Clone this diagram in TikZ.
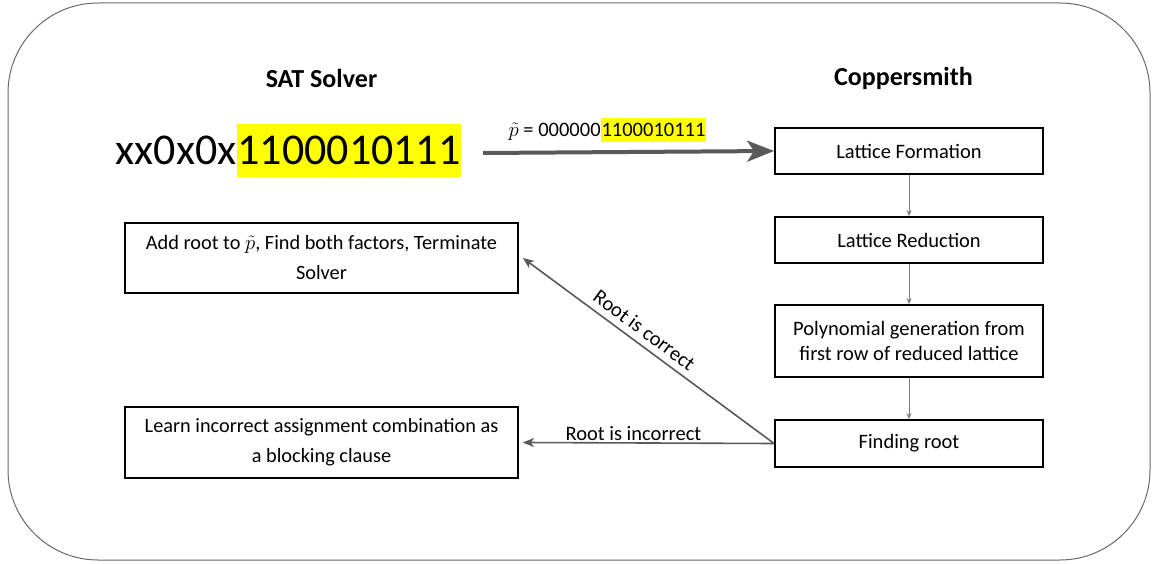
\documentclass[tikz,border=0pt]{standalone}
\usepackage{fontspec}
\setmainfont{Carlito}
\usetikzlibrary{arrows.meta}
\definecolor{framegray}{RGB}{105,105,105}
\definecolor{arrowgray}{RGB}{89,89,89}
\definecolor{linkgray}{RGB}{125,125,125}
\definecolor{hlyellow}{RGB}{255,255,0}
\tikzset{
	stepbox/.style={draw, line width=1.8, minimum width=268, align=center, font=\fontsize{20.5}{24.5}\selectfont},
	solverbox/.style={draw, line width=1.8, minimum width=393, align=center, font=\fontsize{20.3}{30}\selectfont},
	header/.style={font=\fontsize{26}{30}\selectfont\bfseries},
	bigtext/.style={font=\fontsize{44}{48}\selectfont},
	biglink/.style={draw=arrowgray, line width=4, -{Stealth[length=27,width=21,inset=7]}},
	flowlink/.style={draw=linkgray, line width=1, -{Stealth[length=6,width=5]}},
	backlink/.style={draw=arrowgray, line width=1.6, -{Stealth[length=11,width=9,inset=3]}},
	linklabel/.style={font=\fontsize{20.5}{24}\selectfont}
}
\begin{document}
\begin{tikzpicture}[x=1pt,y=-1pt]
	\useasboundingbox (0,0) rectangle (1157,564);
	\draw [framegray, line width=1, rounded corners=90] (8,3) rectangle (1150,560);
	\node[header] (sat) at (321.5,78) {SAT Solver};
	\node[header] (cop) at (903.5,78) {Coppersmith};
	\node[bigtext, fill=hlyellow, inner xsep=0.5, inner ysep=0, minimum height=53] (known) at (349,150.5) {1100010111};
	\node[bigtext, anchor=base east, inner xsep=0] (unknown) at (known.base west) {xx0x0x};
	\node[stepbox, minimum height=46] (lf) at (909,151) {Lattice Formation};
	\node[stepbox, minimum height=46] (lr) at (909,240) {Lattice Reduction};
	\node[stepbox, minimum height=72] (pg) at (909,341) {Polynomial generation from\\first row of reduced lattice};
	\node[stepbox, minimum height=47] (fr) at (909,443.5) {Finding root};
	\node[solverbox, minimum height=70] (add) at (321.5,258) {Add root to $\tilde{p}$, Find both factors, Terminate\\Solver};
	\node[solverbox, minimum height=71] (learn) at (321.5,442.5) {Learn incorrect assignment combination as\\a blocking clause};
	\node[linklabel, fill=hlyellow, inner xsep=0.5, inner ysep=0, minimum height=24] (ptail) at (653.5,130) {1100010111};
	\node[linklabel, anchor=base east, inner xsep=0] (phead) at (ptail.base west) {$\tilde{p}$ = 000000};
	\coordinate (start) at (483,153);
	\draw [biglink] (start) -- (lf.west);
	\draw [flowlink] (lf) -- (lr);
	\draw [flowlink] (lr) -- (pg);
	\draw [flowlink] (pg) -- (fr);
	\draw [backlink] (fr.west) -- node[linklabel, sloped, above=3pt, pos=0.55] {Root is correct} ([xshift=4pt]add.east);
	\draw [backlink] (fr.west) -- node[linklabel, above, pos=0.56, inner sep=1] {Root is incorrect} ([xshift=4pt]learn.east);
\end{tikzpicture}
\end{document}
